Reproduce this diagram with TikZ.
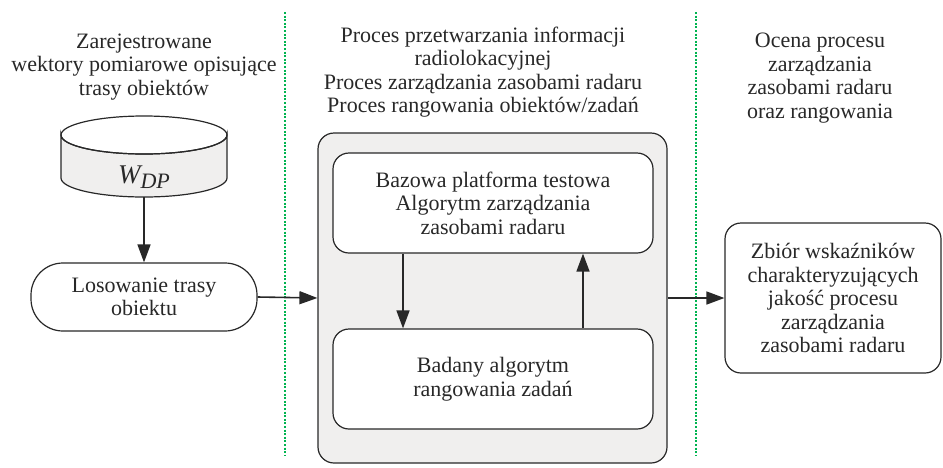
\documentclass[tikz,border=0pt]{standalone}
\usepackage{fontspec}
\setmainfont{Liberation Serif}
\usetikzlibrary{arrows.meta}
\definecolor{boxgray}{RGB}{240,239,238}
\definecolor{sepgreen}{RGB}{0,180,80}
\definecolor{edge}{RGB}{40,40,40}
\tikzset{
  box/.style={draw=edge, line width=0.6pt, rounded corners=8pt, fill=white, inner sep=0pt},
  arr/.style={-{Triangle[length=9pt,width=6.5pt]}, line width=0.8pt, draw=edge},
  sepline/.style={draw=sepgreen, line width=0.6pt, dash pattern=on 1pt off 0.8pt}
}
\begin{document}
\begin{tikzpicture}[x=0.5pt, y=-0.5pt, every node/.style={font=\fontsize{11}{11.75}\selectfont, align=center, text=edge}]
\useasboundingbox (0,0) rectangle (943,467);
% separators between the three stages
\draw[sepline] (285,12) -- (285,456);
\draw[sepline] (696,12) -- (696,456);
% headers
\node (hdrIn) at (144,67) {Zarejestrowane\\wektory pomiarowe opisujące\\trasy obiektów};
\node (hdrProc) at (483,72) {Proces przetwarzania informacji\\radiolokacyjnej\\Proces zarządzania zasobami radaru\\Proces rangowania obiektów/zadań};
\node (hdrEval) at (820,78) {Ocena procesu\\zarządzania\\zasobami radaru\\oraz rangowania};
% data store
\filldraw[fill=boxgray, draw=edge, line width=0.6pt] (61,135) -- (61,178) arc[start angle=180, end angle=0, x radius=83, y radius=19] -- (227,135) arc[start angle=0, end angle=180, x radius=83, y radius=19] -- cycle;
\draw[edge, line width=0.6pt] (144,135) ellipse[x radius=83, y radius=19];
\node (wdp) at (144,177) {\fontsize{13.5}{14}\selectfont\itshape W\raisebox{-0.45ex}{\fontsize{11}{12}\selectfont DP}};
\coordinate (dbbot) at (144,197);
% boxes
\node[box, rounded corners=16pt, minimum width=113pt, minimum height=34pt] (pick) at (144,297) {Losowanie trasy\\obiektu};
\node[box, fill=boxgray, minimum width=174.5pt, minimum height=165pt] (proc) at (492.5,298) {};
\node[box, minimum width=160pt, minimum height=50pt] (mgmt) at (493,203) {Bazowa platforma testowa\\Algorytm zarządzania\\zasobami radaru};
\node[box, minimum width=160pt, minimum height=50pt] (rank) at (493,379) {Badany algorytm\\rangowania zadań};
\node[box, minimum width=108pt, minimum height=75pt] (kpi) at (833,298) {Zbiór wskaźników\\charakteryzujących\\jakość procesu\\zarządzania\\zasobami radaru};
% connectors
\draw[arr] (dbbot) -- (pick.north);
\draw[arr] (pick.east) -- (proc.west);
\draw[arr] ([xshift=-45pt]mgmt.south) -- ([xshift=-45pt]rank.north);
\draw[arr] ([xshift=45pt]rank.north) -- ([xshift=45pt]mgmt.south);
\draw[arr] (proc.east) -- (kpi.west);
\end{tikzpicture}
\end{document}
